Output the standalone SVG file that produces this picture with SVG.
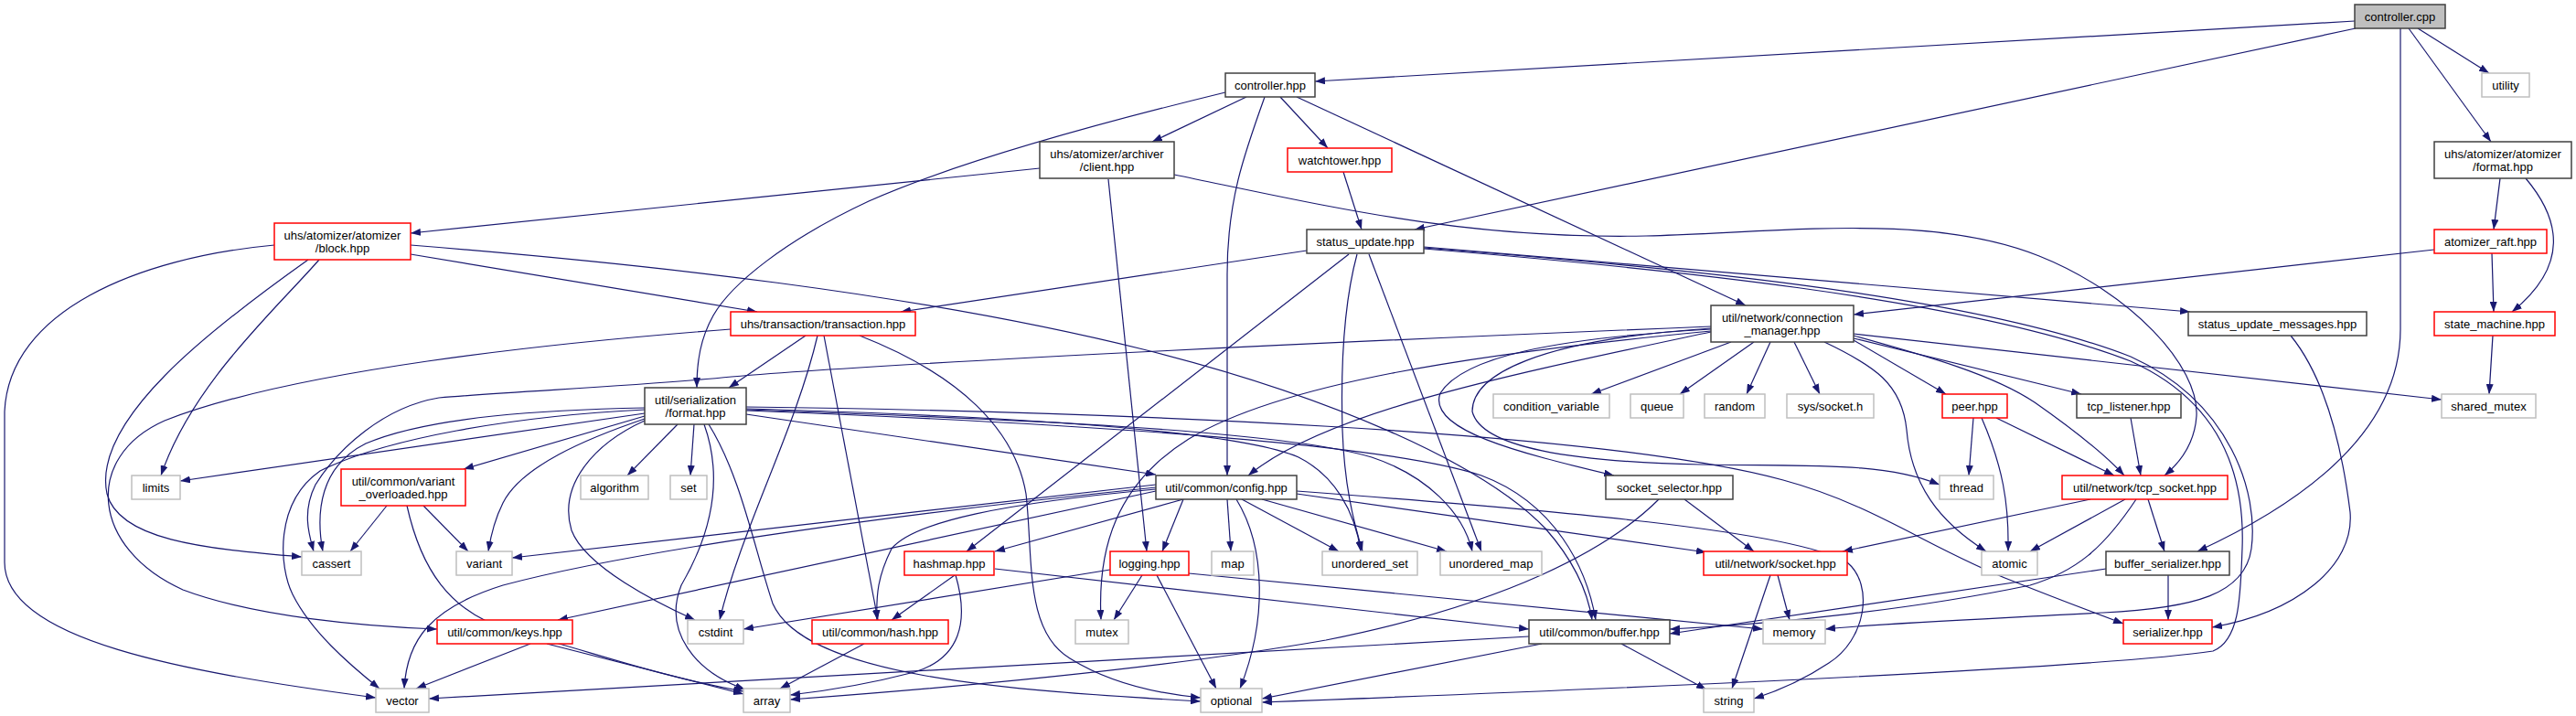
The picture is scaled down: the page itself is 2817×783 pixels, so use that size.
<svg xmlns="http://www.w3.org/2000/svg" width="2817" height="783" viewBox="0 0 2817 783">
<defs>
<style>
.e{fill:none;stroke:#191970;stroke-width:1.2;marker-end:url(#a)}
.n rect{fill:#fff;stroke-width:1.5}
.k rect{stroke:#404040}
.r rect{stroke:#ff0000}
.g rect{stroke:#bfbfbf}
.s rect{fill:#bfbfbf;stroke:#404040}
text{font-family:"Liberation Sans",Arial,sans-serif;font-size:13px;fill:#000;text-anchor:middle}
</style>
<marker id="a" markerUnits="userSpaceOnUse" markerWidth="11" markerHeight="8" refX="11" refY="4" orient="auto"><path d="M0,0 L11,4 L0,8 z" fill="#191970"/></marker>
</defs>
<rect width="2817" height="783" fill="#fff"/>
<g id="edges">
<path class="e" d="M2575,23 L1438,89"/>
<path class="e" d="M2576,31 L1547,251"/>
<path class="e" d="M2644,31 L2722,80"/>
<path class="e" d="M2634,31 L2724,155"/>
<path class="e" d="M2625,31 L2625,360 C2625,460 2540,540 2403,603"/>
<path class="e" d="M1363,106 L1260,155"/>
<path class="e" d="M1400,106 L1452,162"/>
<path class="e" d="M1418,106 L1909,334"/>
<path class="e" d="M1383,106 C1360,170 1342,220 1342,300 L1342,520"/>
<path class="e" d="M1340,101 C1180,140 1040,180 950,220 C860,262 800,310 780,345 C766,370 762,395 762,424"/>
<path class="e" d="M1137,184 L449,255"/>
<path class="e" d="M1212,196 L1254,603"/>
<path class="e" d="M1284,191 C1450,225 1600,262 1800,258 C1950,254 2110,232 2230,280 C2330,320 2405,400 2402,455 C2400,485 2385,505 2367,520"/>
<path class="e" d="M1469,188 L1489,251"/>
<path class="e" d="M449,278 L828,341"/>
<path class="e" d="M449,268 C700,288 1000,320 1250,382 C1450,432 1620,505 1690,578 C1720,612 1736,645 1741,678"/>
<path class="e" d="M349,284 C300,340 210,420 176,520"/>
<path class="e" d="M337,284 C230,360 100,460 117,540 C130,590 220,600 330,609"/>
<path class="e" d="M300,268 C150,282 10,340 5,450 L5,615 C5,700 200,735 411,763"/>
<path class="e" d="M881,367 L797,424"/>
<path class="e" d="M799,360 C600,375 320,405 180,460 C90,500 100,600 200,645 C280,675 400,685 478,688"/>
<path class="e" d="M894,367 C870,470 810,580 787,678"/>
<path class="e" d="M901,367 L960,678"/>
<path class="e" d="M940,367 C1050,410 1110,470 1122,540 C1130,610 1120,690 1170,720 C1210,745 1260,758 1313,763"/>
<path class="e" d="M705,452 L197,526"/>
<path class="e" d="M705,446 C600,448 470,455 400,485 C350,510 345,560 353,603"/>
<path class="e" d="M705,448 C560,455 420,480 350,515 C300,550 305,620 320,650 C340,690 380,725 415,753"/>
<path class="e" d="M705,455 L507,513"/>
<path class="e" d="M705,458 C640,480 570,510 550,550 C540,570 536,590 534,603"/>
<path class="e" d="M705,460 C650,485 610,530 625,580 C640,620 720,660 760,678"/>
<path class="e" d="M741,464 L686,520"/>
<path class="e" d="M759,464 L755,520"/>
<path class="e" d="M770,464 C790,520 780,580 745,640 C725,690 760,735 815,754"/>
<path class="e" d="M775,464 C810,520 825,600 845,660 C880,740 1100,755 1313,767"/>
<path class="e" d="M816,453 L1264,519"/>
<path class="e" d="M816,447 C1100,455 1350,470 1420,500 C1460,520 1482,560 1488,603"/>
<path class="e" d="M816,448 C1100,458 1400,470 1500,500 C1560,520 1600,560 1610,603"/>
<path class="e" d="M816,449 C1100,460 1500,480 1620,520 C1700,550 1735,620 1745,678"/>
<path class="e" d="M816,445 C1200,450 1750,470 1950,525 C2050,552 2110,600 2200,635 C2250,655 2290,670 2322,682"/>
<path class="e" d="M1871,357 C1500,372 1000,395 800,412 C700,422 560,428 480,435 C420,445 370,490 345,530 C330,560 338,585 343,603"/>
<path class="e" d="M1871,363 C1650,410 1450,450 1365,520"/>
<path class="e" d="M1871,360 C1700,370 1600,390 1575,430 C1560,470 1660,495 1765,520"/>
<path class="e" d="M1871,359 C1680,372 1610,410 1610,450 C1620,490 1720,505 1860,508 C1980,510 2060,505 2121,530"/>
<path class="e" d="M1871,362 C1600,388 1400,420 1300,480 C1220,530 1200,600 1204,678"/>
<path class="e" d="M1893,374 L1740,431"/>
<path class="e" d="M1918,374 L1837,431"/>
<path class="e" d="M1936,374 L1910,431"/>
<path class="e" d="M1962,374 L1990,431"/>
<path class="e" d="M2027,372 L2128,431"/>
<path class="e" d="M2027,370 L2276,431"/>
<path class="e" d="M2027,365 L2670,437"/>
<path class="e" d="M2027,367 C2110,390 2180,410 2225,440 C2265,468 2300,495 2323,520"/>
<path class="e" d="M1995,374 C2050,400 2080,420 2085,470 C2090,530 2120,570 2172,603"/>
<path class="e" d="M1429,274 L985,341"/>
<path class="e" d="M1475,278 L1057,603"/>
<path class="e" d="M1484,278 C1470,330 1466,400 1468,470 C1470,530 1480,570 1490,603"/>
<path class="e" d="M1497,278 L1620,603"/>
<path class="e" d="M1557,270 L2395,341"/>
<path class="e" d="M1557,271 C1800,290 2150,320 2330,390 C2440,440 2470,540 2462,600 C2455,650 2400,665 2300,670 C2150,678 2050,682 1996,688"/>
<path class="e" d="M1557,272 C1800,292 2150,325 2330,395 C2430,440 2455,520 2452,600 C2450,650 2450,700 2420,712 C2300,730 1800,752 1380,768"/>
<path class="e" d="M1294,546 L1271,603"/>
<path class="e" d="M1342,546 L1346,603"/>
<path class="e" d="M1352,546 C1385,600 1385,680 1356,753"/>
<path class="e" d="M1358,546 L1464,603"/>
<path class="e" d="M1380,546 L1582,603"/>
<path class="e" d="M1418,540 L1866,604"/>
<path class="e" d="M1418,537 C1700,558 1960,580 2020,615 C2050,640 2040,700 2000,725 C1970,745 1940,757 1918,764"/>
<path class="e" d="M1264,530 L560,610"/>
<path class="e" d="M1264,533 C1000,560 700,600 550,640 C470,665 445,700 442,753"/>
<path class="e" d="M1264,537 L610,678"/>
<path class="e" d="M1264,535 C1100,550 1000,570 975,600 C960,630 958,650 959,678"/>
<path class="e" d="M1294,546 L1088,603"/>
<path class="e" d="M1044,629 L975,678"/>
<path class="e" d="M1045,629 C1060,680 1050,720 1000,735 C950,748 900,756 864,760"/>
<path class="e" d="M1088,622 L1672,688"/>
<path class="e" d="M1214,623 L813,688"/>
<path class="e" d="M1249,629 L1218,678"/>
<path class="e" d="M1265,629 L1330,753"/>
<path class="e" d="M1300,627 L1928,688"/>
<path class="e" d="M945,704 L853,753"/>
<path class="e" d="M580,704 L455,753"/>
<path class="e" d="M598,704 L813,759"/>
<path class="e" d="M423,553 L383,603"/>
<path class="e" d="M463,553 L512,603"/>
<path class="e" d="M445,553 C460,620 490,670 560,690 C640,710 720,740 813,756"/>
<path class="e" d="M1842,546 L1918,603"/>
<path class="e" d="M1814,546 C1760,600 1650,660 1450,700 C1250,735 1000,755 864,765"/>
<path class="e" d="M1944,629 L1957,678"/>
<path class="e" d="M1936,629 L1894,753"/>
<path class="e" d="M1773,704 L1866,754"/>
<path class="e" d="M1672,696 L469,764"/>
<path class="e" d="M1686,704 L1380,764"/>
<path class="e" d="M2286,546 L2015,603"/>
<path class="e" d="M2324,546 L2220,603"/>
<path class="e" d="M2336,546 C2300,600 2270,625 2220,640 C2100,665 1950,682 1826,688"/>
<path class="e" d="M2349,546 L2367,603"/>
<path class="e" d="M2158,457 L2153,520"/>
<path class="e" d="M2167,457 C2190,510 2197,550 2196,603"/>
<path class="e" d="M2183,457 L2312,520"/>
<path class="e" d="M2330,457 L2341,520"/>
<path class="e" d="M2303,622 L1826,693"/>
<path class="e" d="M2371,629 L2371,678"/>
<path class="e" d="M2505,367 C2540,410 2560,480 2570,560 C2575,620 2510,670 2419,686"/>
<path class="e" d="M2734,195 L2727,251"/>
<path class="e" d="M2762,195 C2800,240 2810,290 2747,341"/>
<path class="e" d="M2662,273 L2027,344"/>
<path class="e" d="M2725,277 L2727,341"/>
<path class="e" d="M2726,367 L2722,431"/>
</g>
<g id="n_controller_cpp" class="n s"><rect x="2575" y="5" width="99" height="26"/><text x="2624.5" y="22.5">controller.cpp</text></g>
<g id="n_controller_hpp" class="n k"><rect x="1340" y="80" width="98" height="26"/><text x="1389" y="97.5">controller.hpp</text></g>
<g id="n_utility" class="n g"><rect x="2714" y="80" width="52" height="26"/><text x="2740" y="97.5">utility</text></g>
<g id="n_client" class="n k"><rect x="1137" y="155" width="147" height="40"/><text x="1210.5" y="172.5">uhs/atomizer/archiver</text><text x="1210.5" y="186.5">/client.hpp</text></g>
<g id="n_watchtower" class="n r"><rect x="1408" y="162" width="114" height="26"/><text x="1465" y="179.5">watchtower.hpp</text></g>
<g id="n_atomizer_format" class="n k"><rect x="2662" y="155" width="150" height="40"/><text x="2737" y="172.5">uhs/atomizer/atomizer</text><text x="2737" y="186.5">/format.hpp</text></g>
<g id="n_block" class="n r"><rect x="300" y="244" width="149" height="40"/><text x="374.5" y="261.5">uhs/atomizer/atomizer</text><text x="374.5" y="275.5">/block.hpp</text></g>
<g id="n_status_update" class="n k"><rect x="1429" y="251" width="128" height="26"/><text x="1493" y="268.5">status_update.hpp</text></g>
<g id="n_atomizer_raft" class="n r"><rect x="2662" y="251" width="123" height="26"/><text x="2723.5" y="268.5">atomizer_raft.hpp</text></g>
<g id="n_transaction" class="n r"><rect x="799" y="341" width="202" height="26"/><text x="900" y="358.5">uhs/transaction/transaction.hpp</text></g>
<g id="n_connection_manager" class="n k"><rect x="1871" y="334" width="156" height="40"/><text x="1949" y="351.5">util/network/connection</text><text x="1949" y="365.5">_manager.hpp</text></g>
<g id="n_status_update_messages" class="n k"><rect x="2393" y="341" width="195" height="26"/><text x="2490.5" y="358.5">status_update_messages.hpp</text></g>
<g id="n_state_machine" class="n r"><rect x="2662" y="341" width="132" height="26"/><text x="2728" y="358.5">state_machine.hpp</text></g>
<g id="n_serialization_format" class="n k"><rect x="705" y="424" width="111" height="40"/><text x="760.5" y="441.5">util/serialization</text><text x="760.5" y="455.5">/format.hpp</text></g>
<g id="n_condition_variable" class="n g"><rect x="1633" y="431" width="127" height="26"/><text x="1696.5" y="448.5">condition_variable</text></g>
<g id="n_queue" class="n g"><rect x="1783" y="431" width="58" height="26"/><text x="1812" y="448.5">queue</text></g>
<g id="n_random" class="n g"><rect x="1864" y="431" width="66" height="26"/><text x="1897" y="448.5">random</text></g>
<g id="n_sys_socket" class="n g"><rect x="1954" y="431" width="95" height="26"/><text x="2001.5" y="448.5">sys/socket.h</text></g>
<g id="n_peer" class="n r"><rect x="2124" y="431" width="71" height="26"/><text x="2159.5" y="448.5">peer.hpp</text></g>
<g id="n_tcp_listener" class="n k"><rect x="2271" y="431" width="114" height="26"/><text x="2328" y="448.5">tcp_listener.hpp</text></g>
<g id="n_shared_mutex" class="n g"><rect x="2670" y="431" width="103" height="26"/><text x="2721.5" y="448.5">shared_mutex</text></g>
<g id="n_limits" class="n g"><rect x="144" y="520" width="53" height="26"/><text x="170.5" y="537.5">limits</text></g>
<g id="n_variant_overloaded" class="n r"><rect x="373" y="513" width="136" height="40"/><text x="441" y="530.5">util/common/variant</text><text x="441" y="544.5">_overloaded.hpp</text></g>
<g id="n_algorithm" class="n g"><rect x="635" y="520" width="74" height="26"/><text x="672" y="537.5">algorithm</text></g>
<g id="n_set" class="n g"><rect x="733" y="520" width="40" height="26"/><text x="753" y="537.5">set</text></g>
<g id="n_config" class="n k"><rect x="1264" y="520" width="154" height="26"/><text x="1341" y="537.5">util/common/config.hpp</text></g>
<g id="n_socket_selector" class="n k"><rect x="1756" y="520" width="139" height="26"/><text x="1825.5" y="537.5">socket_selector.hpp</text></g>
<g id="n_thread" class="n g"><rect x="2121" y="520" width="59" height="26"/><text x="2150.5" y="537.5">thread</text></g>
<g id="n_tcp_socket" class="n r"><rect x="2255" y="520" width="181" height="26"/><text x="2345.5" y="537.5">util/network/tcp_socket.hpp</text></g>
<g id="n_cassert" class="n g"><rect x="330" y="603" width="65" height="26"/><text x="362.5" y="620.5">cassert</text></g>
<g id="n_variant" class="n g"><rect x="499" y="603" width="61" height="26"/><text x="529.5" y="620.5">variant</text></g>
<g id="n_hashmap" class="n r"><rect x="989" y="603" width="98" height="26"/><text x="1038" y="620.5">hashmap.hpp</text></g>
<g id="n_logging" class="n r"><rect x="1214" y="603" width="86" height="26"/><text x="1257" y="620.5">logging.hpp</text></g>
<g id="n_map" class="n g"><rect x="1325" y="603" width="46" height="26"/><text x="1348" y="620.5">map</text></g>
<g id="n_unordered_set" class="n g"><rect x="1446" y="603" width="104" height="26"/><text x="1498" y="620.5">unordered_set</text></g>
<g id="n_unordered_map" class="n g"><rect x="1575" y="603" width="111" height="26"/><text x="1630.5" y="620.5">unordered_map</text></g>
<g id="n_socket" class="n r"><rect x="1863" y="603" width="157" height="26"/><text x="1941.5" y="620.5">util/network/socket.hpp</text></g>
<g id="n_atomic" class="n g"><rect x="2167" y="603" width="61" height="26"/><text x="2197.5" y="620.5">atomic</text></g>
<g id="n_buffer_serializer" class="n k"><rect x="2303" y="603" width="135" height="26"/><text x="2370.5" y="620.5">buffer_serializer.hpp</text></g>
<g id="n_keys" class="n r"><rect x="478" y="678" width="148" height="26"/><text x="552" y="695.5">util/common/keys.hpp</text></g>
<g id="n_cstdint" class="n g"><rect x="752" y="678" width="61" height="26"/><text x="782.5" y="695.5">cstdint</text></g>
<g id="n_hash" class="n r"><rect x="888" y="678" width="149" height="26"/><text x="962.5" y="695.5">util/common/hash.hpp</text></g>
<g id="n_mutex" class="n g"><rect x="1176" y="678" width="58" height="26"/><text x="1205" y="695.5">mutex</text></g>
<g id="n_buffer" class="n k"><rect x="1672" y="678" width="154" height="26"/><text x="1749" y="695.5">util/common/buffer.hpp</text></g>
<g id="n_memory" class="n g"><rect x="1928" y="678" width="68" height="26"/><text x="1962" y="695.5">memory</text></g>
<g id="n_serializer" class="n r"><rect x="2322" y="678" width="97" height="26"/><text x="2370.5" y="695.5">serializer.hpp</text></g>
<g id="n_vector" class="n g"><rect x="411" y="753" width="58" height="26"/><text x="440" y="770.5">vector</text></g>
<g id="n_array" class="n g"><rect x="813" y="753" width="51" height="26"/><text x="838.5" y="770.5">array</text></g>
<g id="n_optional" class="n g"><rect x="1313" y="753" width="67" height="26"/><text x="1346.5" y="770.5">optional</text></g>
<g id="n_string" class="n g"><rect x="1863" y="753" width="55" height="26"/><text x="1890.5" y="770.5">string</text></g>
</svg>
